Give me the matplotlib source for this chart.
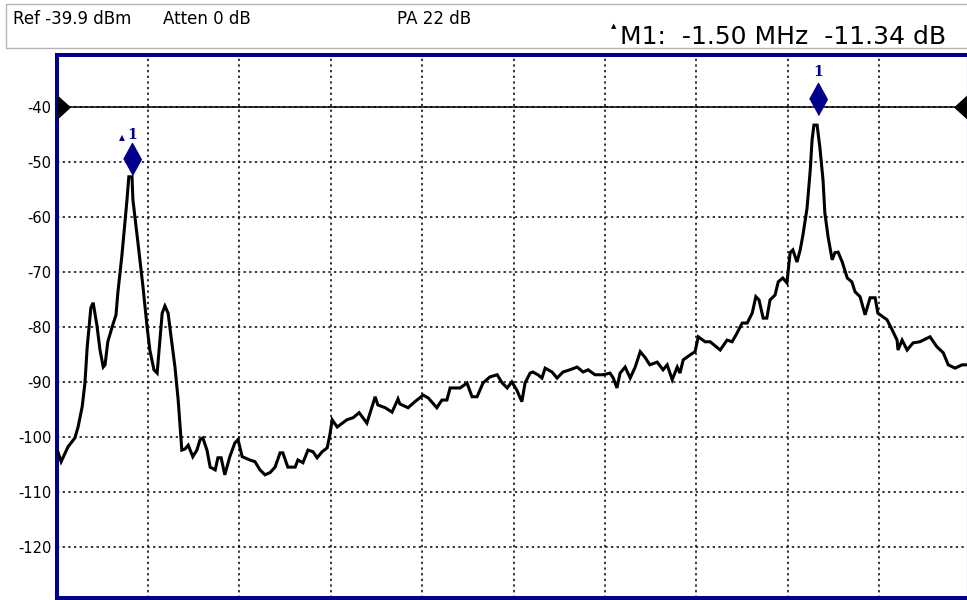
import matplotlib
matplotlib.use('Agg')
from matplotlib import pyplot as plt
from matplotlib.patches import Rectangle

plt.rcParams['axes.unicode_minus'] = False

# trace: offset from left edge of span [MHz], level [dBm]
freq_mhz = [0.000, 0.010, 0.025, 0.040, 0.047, 0.056, 0.062, 0.067, 0.075, 0.080,
            0.088, 0.095, 0.102, 0.106, 0.112, 0.123, 0.130, 0.134, 0.143, 0.154,
            0.158, 0.165, 0.167, 0.178, 0.189, 0.198, 0.204, 0.213, 0.220, 0.226,
            0.231, 0.237, 0.244, 0.250, 0.259, 0.266, 0.274, 0.281, 0.288, 0.298,
            0.307, 0.314, 0.320, 0.329, 0.336, 0.347, 0.353, 0.360, 0.368, 0.379,
            0.390, 0.397, 0.406, 0.423, 0.434, 0.445, 0.456, 0.467, 0.478, 0.489,
            0.495, 0.506, 0.522, 0.528, 0.539, 0.550, 0.561, 0.570, 0.581, 0.592,
            0.598, 0.603, 0.614, 0.635, 0.649, 0.662, 0.679, 0.697, 0.703, 0.719,
            0.734, 0.747, 0.751, 0.769, 0.784, 0.802, 0.813, 0.832, 0.843, 0.854,
            0.861, 0.883, 0.898, 0.909, 0.920, 0.933, 0.948, 0.964, 0.975, 0.986,
            0.996, 1.007, 1.018, 1.025, 1.036, 1.042, 1.053, 1.062, 1.069, 1.084,
            1.095, 1.108, 1.123, 1.139, 1.152, 1.163, 1.178, 1.196, 1.211, 1.218,
            1.226, 1.233, 1.244, 1.255, 1.266, 1.277, 1.288, 1.298, 1.314, 1.327,
            1.336, 1.347, 1.358, 1.364, 1.371, 1.386, 1.397, 1.404, 1.419, 1.430,
            1.452, 1.467, 1.478, 1.489, 1.500, 1.511, 1.522, 1.530, 1.537, 1.546,
            1.554, 1.561, 1.572, 1.579, 1.589, 1.598, 1.605, 1.611, 1.620, 1.627,
            1.633, 1.642, 1.649, 1.653, 1.657, 1.664, 1.670, 1.677, 1.681, 1.688,
            1.697, 1.703, 1.710, 1.719, 1.730, 1.740, 1.747, 1.758, 1.769, 1.780,
            1.791, 1.797, 1.817, 1.828, 1.839, 1.841, 1.850, 1.861, 1.874, 1.889,
            1.911, 1.926, 1.940, 1.951, 1.966, 1.981, 1.992]
level_dbm = [-102.0, -104.5, -101.8, -100.2, -98.2, -94.5, -90.2, -83.6, -76.5, -75.6,
             -79.6, -84.2, -87.3, -86.9, -82.7, -79.6, -77.8, -73.8, -66.9, -56.9,
             -52.7, -52.7, -56.9, -64.7, -72.7, -80.0, -84.2, -87.8, -88.4, -82.4,
             -77.5, -76.2, -77.5, -81.5, -87.3, -93.3, -102.4, -102.2, -101.5, -103.6,
             -102.4, -100.5, -100.2, -102.4, -105.5, -106.0, -103.8, -103.8, -106.9, -103.6,
             -101.1, -100.5, -103.6, -104.2, -104.5, -106.0, -106.9, -106.5, -105.5, -102.9,
             -102.9, -105.5, -105.5, -104.2, -104.7, -102.4, -102.7, -103.8, -102.7, -102.0,
             -99.6, -96.9, -98.2, -96.9, -96.5, -95.6, -97.5, -92.7, -94.2, -94.7,
             -95.5, -93.1, -94.0, -94.7, -93.6, -92.4, -92.9, -94.7, -93.3, -93.3,
             -91.1, -91.1, -90.2, -92.7, -92.7, -90.2, -89.1, -88.7, -90.2, -91.1,
             -90.0, -91.5, -93.6, -90.2, -88.4, -88.2, -88.7, -89.3, -87.5, -88.2,
             -89.3, -88.2, -87.8, -87.3, -88.2, -87.8, -88.7, -88.7, -88.4, -89.3,
             -91.1, -88.4, -87.3, -89.3, -87.3, -84.5, -85.6, -86.9, -86.4, -87.8,
             -86.9, -89.6, -87.3, -88.4, -86.0, -85.1, -84.5, -81.8, -82.7, -82.7,
             -84.2, -82.4, -82.7, -81.1, -79.3, -79.3, -77.5, -74.5, -75.1, -78.4,
             -78.4, -75.1, -74.2, -71.8, -71.1, -72.0, -66.5, -66.0, -68.2, -66.0,
             -63.3, -58.4, -51.5, -46.0, -43.3, -43.3, -47.3, -53.3, -59.3, -63.6,
             -67.8, -66.5, -66.4, -68.2, -71.1, -71.8, -73.6, -74.5, -77.8, -74.7,
             -74.7, -77.5, -78.7, -80.5, -82.4, -84.2, -82.4, -84.2, -82.9, -82.7,
             -81.8, -83.6, -84.7, -86.9, -87.5, -86.9, -86.9]

y_ticks = [-40, -50, -60, -70, -80, -90, -100, -110, -120]
x_grid = [0.2, 0.4, 0.6, 0.8, 1.0, 1.2, 1.4, 1.6, 1.8]
ref_level = -40
x_range = (0.0, 1.992)
y_range = (-129.3, -30.55)

# marker tips (delta reference on the left, marker 1 on the right)
marker_freq = [0.165, 1.666]
marker_level = [-52.4, -41.5]

header = ['Ref -39.9 dBm', 'Atten 0 dB', 'PA 22 dB']
header_x = [13, 163, 397]
readout = 'M1:  -1.50 MHz  -11.34 dB'

navy = '#00008c'
W, H = 967, 600

fig = plt.figure(figsize=(W / 100, H / 100), dpi=100)
fig.patch.set_facecolor('white')

# header strip
fig.add_artist(Rectangle((6 / W, 1 - 48 / H), 1.0, 44 / H, transform=fig.transFigure,
                         facecolor='white', edgecolor='#b4b4b4', lw=1))
for txt, px in zip(header, header_x):
    fig.text(px / W, 1 - 19 / H, txt, fontsize=12, va='center', ha='left')
fig.text(611 / W, 1 - 26 / H, '\u25B2', fontsize=5, va='center', ha='left')
fig.text(620 / W, 1 - 37 / H, readout, fontsize=18, va='center', ha='left')

ax = fig.add_axes([56.6 / W, 2 / H, 910.4 / W, 543 / H])
ax.set_xlim(*x_range)
ax.set_ylim(*y_range)
ax.set_xticks(x_grid)
ax.set_yticks(y_ticks)
ax.set_yticklabels([str(v) for v in y_ticks])
ax.tick_params(axis='x', labelbottom=False, length=0)
ax.tick_params(axis='y', length=0, pad=3.5, labelsize=10.5)
ax.grid(True, color='black', linestyle=(0, (1.5, 2.2)), linewidth=1.1)

for s in ['left', 'top', 'bottom']:
    ax.spines[s].set_color(navy)
    ax.spines[s].set_linewidth(2.9)
ax.spines['right'].set_color('#c8c8f0')
ax.spines['right'].set_linewidth(1)

# reference level line with end arrows
ax.axhline(ref_level, color='black', lw=1.1, zorder=3)
ax.plot([x_range[0]], [ref_level], ls='none', marker=[(0, -1), (1.1, 0), (0, 1)],
        ms=18, color='black', clip_on=False, zorder=4)
ax.plot([x_range[1]], [ref_level], ls='none', marker=[(0, -1), (-1.1, 0), (0, 1)],
        ms=18, color='black', clip_on=False, zorder=4)

ax.plot(freq_mhz, level_dbm, color='black', lw=2.2, solid_joinstyle='miter', zorder=5)

# markers: diamond with the tip on the marker value
diamond = [(0, 0), (0.55, 1), (0, 2), (-0.55, 1)]
ax.plot(marker_freq, marker_level, ls='none', marker=diamond, ms=46,
        color=navy, mec=navy, zorder=6, clip_on=False)
ax.annotate('1', (marker_freq[1], marker_level[1]), xytext=(0, 31), textcoords='offset points',
            ha='center', va='center', color=navy, fontsize=10, fontweight='bold',
            family='DejaVu Serif')
ax.annotate('1', (marker_freq[0], marker_level[0]), xytext=(0, 29), textcoords='offset points',
            ha='center', va='center', color=navy, fontsize=10, fontweight='bold',
            family='DejaVu Serif')
ax.annotate('\u25B2', (marker_freq[0], marker_level[0]), xytext=(-7, 27), textcoords='offset points',
            ha='center', va='center', color=navy, fontsize=5.5)

fig.savefig('out.png', dpi=100)
